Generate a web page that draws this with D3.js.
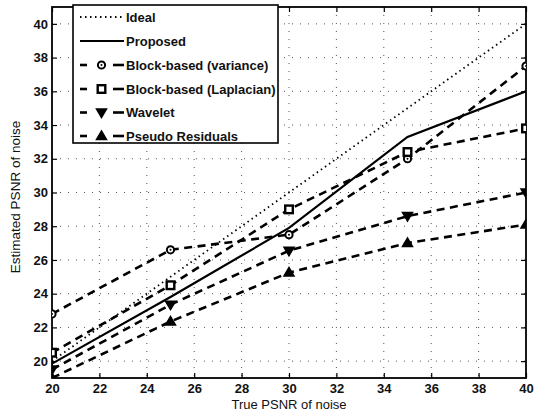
<!DOCTYPE html>
<html><head><meta charset="utf-8">
<script src="https://cdn.jsdelivr.net/npm/d3@7"></script>
<style>body{margin:0;background:#fff}svg{display:block}text{font-family:"Liberation Sans",Arial,sans-serif}</style>
</head><body><svg id="c" width="537" height="414"></svg>
<script>
const truePSNR = [20, 25, 30, 35, 40];
const ideal = [20, 25, 30, 35, 40];
const proposed = [19.85, 23.8, 27.9, 33.3, 36.0];
const blockVariance = [22.8, 26.6, 27.5, 32.0, 37.5];
const blockLaplacian = [20.5, 24.5, 29.0, 32.4, 33.8];
const wavelet = [19.5, 23.35, 26.55, 28.6, 30.0];
const pseudoResiduals = [19.0, 22.35, 25.25, 27.0, 28.1];
const xTicks = [20, 22, 24, 26, 28, 30, 32, 34, 36, 38, 40];
const yTicks = [20, 22, 24, 26, 28, 30, 32, 34, 36, 38, 40];
const seriesNames = ["Ideal", "Proposed", "Block-based (variance)", "Block-based (Laplacian)", "Wavelet", "Pseudo Residuals"];

const svg = d3.select("#c");
const L = 52, R = 526, T = 7, B = 378;
const x = d3.scaleLinear().domain([20, 40]).range([L, R]);
const y = d3.scaleLinear().domain([19, 41]).range([B, T]);

svg.append("defs").append("clipPath").attr("id", "clip")
  .append("rect").attr("x", L).attr("y", T).attr("width", R - L).attr("height", B - T);

// grid
const grid = svg.append("g").attr("stroke", "#555").attr("stroke-width", 1).attr("stroke-dasharray", "1,7");
xTicks.slice(1, -1).forEach(t => grid.append("line").attr("x1", x(t)).attr("x2", x(t)).attr("y1", T).attr("y2", B));
yTicks.forEach(t => grid.append("line").attr("y1", y(t)).attr("y2", y(t)).attr("x1", L).attr("x2", R));

// axes
const fnt = "13px";
const gx = svg.append("g").attr("transform", `translate(0,${B})`)
  .call(d3.axisBottom(x).tickValues(xTicks).tickSize(-5).tickPadding(6).tickFormat(d3.format("d")));
const gy = svg.append("g").attr("transform", `translate(${L},0)`)
  .call(d3.axisLeft(y).tickValues(yTicks).tickSize(-5).tickPadding(4).tickFormat(d3.format("d")));
const gt = svg.append("g").attr("transform", `translate(0,${T})`)
  .call(d3.axisTop(x).tickValues(xTicks).tickSize(-5).tickFormat(""));
const gr = svg.append("g").attr("transform", `translate(${R},0)`)
  .call(d3.axisRight(y).tickValues(yTicks).tickSize(-5).tickFormat(""));
[gx, gy, gt, gr].forEach(g => {
  g.select(".domain").remove();
  g.selectAll("line").attr("stroke", "#000").attr("stroke-width", 1.2);
  g.selectAll("text").attr("font-size", fnt).attr("font-weight", "bold").attr("fill", "#111")
    .style("font-family", '"Liberation Sans", Arial, sans-serif');
});
svg.append("rect").attr("x", L).attr("y", T).attr("width", R - L).attr("height", B - T)
  .attr("fill", "none").attr("stroke", "#000").attr("stroke-width", 1.8);

// series
const series = [
  {name: seriesNames[0], vals: ideal, dash: "1.5,3.5", w: 1.8, marker: null},
  {name: seriesNames[1], vals: proposed, dash: null, w: 2.2, marker: null},
  {name: seriesNames[2], vals: blockVariance, dash: "8,5.5", w: 2.6, marker: "circle"},
  {name: seriesNames[3], vals: blockLaplacian, dash: "8,5.5", w: 2.6, marker: "square"},
  {name: seriesNames[4], vals: wavelet, dash: "8,5.5", w: 2.6, marker: "down"},
  {name: seriesNames[5], vals: pseudoResiduals, dash: "8,5.5", w: 2.6, marker: "up"}
];
const line = d3.line().x((d, i) => x(truePSNR[i])).y(d => y(d));
const plot = svg.append("g").attr("clip-path", "url(#clip)");

function drawMarker(g, type, cx, cy) {
  if (type === "circle") {
    g.append("circle").attr("cx", cx).attr("cy", cy).attr("r", 3.6).attr("fill", "#fff").attr("stroke", "#000").attr("stroke-width", 2);
    g.append("circle").attr("cx", cx).attr("cy", cy).attr("r", 1).attr("fill", "#000");
  } else if (type === "square") {
    g.append("rect").attr("x", cx - 3.8).attr("y", cy - 3.8).attr("width", 7.6).attr("height", 7.6).attr("fill", "#fff").attr("stroke", "#000").attr("stroke-width", 2.4);
  } else if (type === "down") {
    g.append("path").attr("d", `M${cx - 5},${cy - 3.5}L${cx + 5},${cy - 3.5}L${cx},${cy + 5}Z`).attr("fill", "#000").attr("stroke", "#000").attr("stroke-width", 1.5);
  } else if (type === "up") {
    g.append("path").attr("d", `M${cx - 5},${cy + 3.5}L${cx + 5},${cy + 3.5}L${cx},${cy - 5}Z`).attr("fill", "#000").attr("stroke", "#000").attr("stroke-width", 1.5);
  }
}

series.forEach(s => {
  plot.append("path").datum(s.vals).attr("d", line).attr("fill", "none").attr("stroke", "#000")
    .attr("stroke-width", s.w).attr("stroke-dasharray", s.dash);
});
series.forEach(s => {
  if (s.marker) s.vals.forEach((v, i) => drawMarker(plot, s.marker, x(truePSNR[i]), y(v)));
});

// legend
const lg = svg.append("g");
lg.append("rect").attr("x", 73).attr("y", 5).attr("width", 205).attr("height", 138)
  .attr("fill", "#fff").attr("stroke", "#000").attr("stroke-width", 1.6);
const ly = [17, 41, 65, 89, 112.5, 136];
series.forEach((s, i) => {
  if (s.marker) {
    lg.append("line").attr("x1", 80).attr("x2", 87).attr("y1", ly[i]).attr("y2", ly[i]).attr("stroke", "#000").attr("stroke-width", s.w);
    lg.append("line").attr("x1", 113).attr("x2", 124).attr("y1", ly[i]).attr("y2", ly[i]).attr("stroke", "#000").attr("stroke-width", s.w);
    drawMarker(lg, s.marker, 101.5, ly[i]);
  } else {
    lg.append("line").attr("x1", 80).attr("x2", 124).attr("y1", ly[i]).attr("y2", ly[i])
      .attr("stroke", "#000").attr("stroke-width", s.w).attr("stroke-dasharray", s.dash);
  }
  lg.append("text").attr("x", 126).attr("y", ly[i]).attr("dy", "0.36em").attr("font-size", "13px")
    .attr("font-weight", "bold").attr("fill", "#111").text(s.name);
});

// axis labels
svg.append("text").attr("x", 289).attr("y", 409).attr("text-anchor", "middle").attr("font-size", "13px").attr("fill", "#111").text("True PSNR of noise");
svg.append("text").attr("transform", "translate(20,197) rotate(-90)").attr("text-anchor", "middle").attr("font-size", "13.5px").attr("fill", "#111").text("Estimated PSNR of noise");
</script></body></html>
